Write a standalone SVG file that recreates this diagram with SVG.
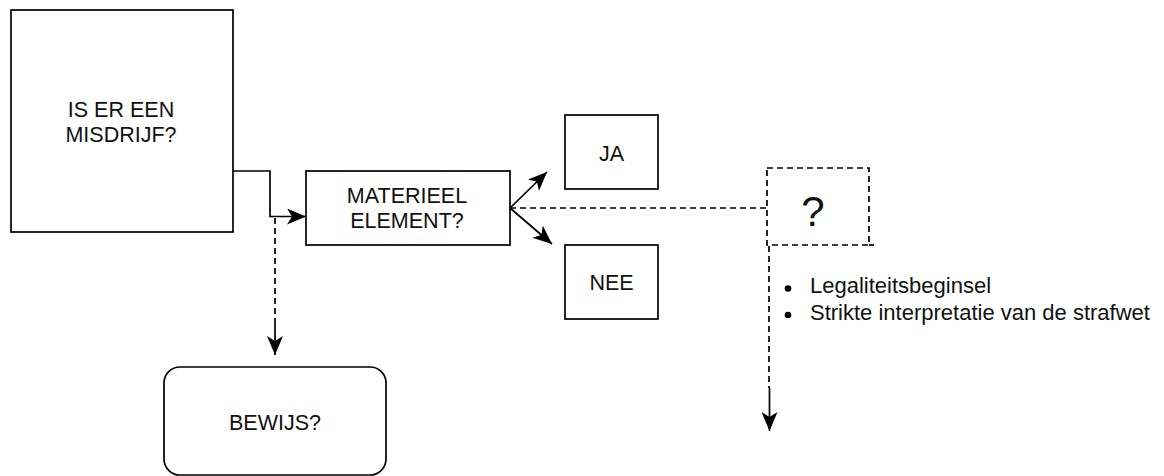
<svg xmlns="http://www.w3.org/2000/svg" width="1164" height="476" viewBox="0 0 1164 476">
<style>
.box{fill:#fff;stroke:#000;stroke-width:1.7}
.dbox{fill:none;stroke:#000;stroke-width:1.7;stroke-dasharray:6 4}
.ln{fill:none;stroke:#000;stroke-width:1.7}
.dl{fill:none;stroke:#000;stroke-width:1.7;stroke-dasharray:6 4}
.t{font-family:"Liberation Sans",Arial,Helvetica,sans-serif;font-size:21.5px;fill:#111;text-anchor:middle}
.b{font-family:"Liberation Sans",Arial,Helvetica,sans-serif;font-size:22px;fill:#111}
.q{font-family:"Liberation Sans",Arial,Helvetica,sans-serif;font-size:42px;fill:#111;text-anchor:middle}
</style>
<defs>
<marker id="arr" viewBox="0 0 19 16" refX="19" refY="8" markerWidth="19" markerHeight="16" markerUnits="userSpaceOnUse" orient="auto">
<path d="M0,0 L19,8 L0,16 L5,8 Z" fill="#000"/>
</marker>
</defs>
<g id="connectors">
<path class="ln" d="M233,171 H270 V216.5 H306" marker-end="url(#arr)"/>
<path class="dl" d="M275,218 V322"/>
<path class="ln" d="M275,322 V355" marker-end="url(#arr)"/>
<path class="ln" d="M510,208 L547,172" marker-end="url(#arr)"/>
<path class="ln" d="M510,208 L552,244" marker-end="url(#arr)"/>
<path class="dl" d="M510,208 H767"/>
<path class="dl" d="M769,246 V388"/>
<path class="ln" d="M769.5,388 V431" marker-end="url(#arr)"/>
</g>
<g id="misdrijf">
<rect class="box" x="11" y="10" width="222" height="222"/>
<text class="t" x="121" y="117">IS ER EEN</text>
<text class="t" x="121" y="142">MISDRIJF?</text>
</g>
<g id="materieel">
<rect class="box" x="306" y="171" width="204" height="74"/>
<text class="t" x="407" y="203">MATERIEEL</text>
<text class="t" x="407" y="228">ELEMENT?</text>
</g>
<g id="ja">
<rect class="box" x="565" y="115" width="93" height="74"/>
<text class="t" x="611.5" y="161">JA</text>
</g>
<g id="nee">
<rect class="box" x="565" y="245" width="93" height="74"/>
<text class="t" x="611.5" y="290">NEE</text>
</g>
<g id="vraag">
<rect class="dbox" x="767" y="168" width="102" height="77"/>
<path class="dl" d="M869,245 H874"/>
<text class="q" x="813" y="226">?</text>
</g>
<g id="bewijs">
<rect class="box" x="164" y="367" width="222" height="108" rx="16" ry="16"/>
<text class="t" x="275" y="430">BEWIJS?</text>
</g>
<g id="lijst">
<circle cx="788" cy="288.5" r="3.3"/>
<circle cx="788" cy="315" r="3.3"/>
<text class="b" x="810" y="293">Legaliteitsbeginsel</text>
<text class="b" x="810" y="320">Strikte interpretatie van de strafwet</text>
</g>
</svg>
